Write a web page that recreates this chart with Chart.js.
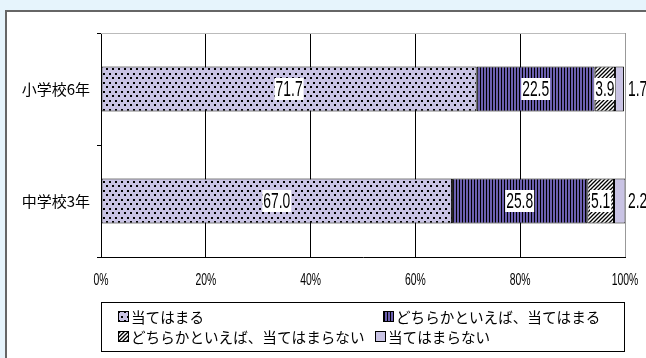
<!DOCTYPE html>
<html lang="ja">
<head>
<meta charset="utf-8">
<script src="https://cdn.jsdelivr.net/npm/chart.js@4.4.0/dist/chart.umd.min.js"></script>
<style>
  html, body { margin: 0; padding: 0; width: 646px; height: 358px; overflow: hidden; background: #e6f4fc; }
  #panel { position: absolute; left: 5px; top: 10px; width: 660px; height: 360px; background: #fff;
           border-left: 2px solid #666; border-top: 2px solid #666; box-sizing: border-box; }
  #chart { position: absolute; left: 0; top: 0; }
</style>
</head>
<body>
<div id="panel"></div>
<canvas id="chart" width="646" height="358"></canvas>
<script>
// 回答の割合（％）
const categories = ["小学校6年", "中学校3年"];
const seriesNames = ["当てはまる", "どちらかといえば、当てはまる", "どちらかといえば、当てはまらない", "当てはまらない"];
const applyValues = [71.7, 67.0];
const somewhatApplyValues = [22.5, 25.8];
const somewhatNotValues = [3.9, 5.1];
const notApplyValues = [1.7, 2.2];
const tickLabels = ["0%", "20%", "40%", "60%", "80%", "100%"];

const numFont = '"Liberation Sans", "DejaVu Sans", sans-serif';
const jpFont = '"Noto Sans CJK JP", "Noto Sans", sans-serif';

// 細長い数字を描く（横方向に縮める）
function drawNarrow(ctx, text, x, y, size, sx, align) {
    ctx.save();
    ctx.font = size + "px " + numFont;
    ctx.textBaseline = "middle";
    ctx.textAlign = align;
    ctx.translate(x, y);
    ctx.scale(sx, 1);
    ctx.fillText(text, 0, 0);
    ctx.restore();
}
function narrowWidth(ctx, text, size, sx) {
    ctx.save();
    ctx.font = size + "px " + numFont;
    const w = ctx.measureText(text).width * sx;
    ctx.restore();
    return w;
}

// 塗りつぶし用のパターン
function makePattern(w, h, draw) {
    const c = document.createElement("canvas");
    c.width = w;
    c.height = h;
    draw(c.getContext("2d"));
    return document.getElementById("chart").getContext("2d").createPattern(c, "repeat");
}

const dotPattern = makePattern(6, 9, g => {
    g.fillStyle = "#c9c3e4";
    g.fillRect(0, 0, 6, 9);
    g.fillStyle = "#000";
    g.fillRect(1, 1, 2, 2);
    g.fillRect(4, 5, 2, 2);
});
const stripePattern = makePattern(3, 3, g => {
    g.fillStyle = "#6c60b0";
    g.fillRect(0, 0, 3, 3);
    g.fillStyle = "#000";
    g.fillRect(0, 0, 1, 3);
});
const hatchPattern = makePattern(4, 4, g => {
    g.fillStyle = "#fff";
    g.fillRect(0, 0, 4, 4);
    g.strokeStyle = "#000";
    g.lineWidth = 1.3;
    g.beginPath();
    g.moveTo(-1, 5); g.lineTo(5, -1);
    g.moveTo(-1, 1); g.lineTo(1, -1);
    g.moveTo(3, 5); g.lineTo(5, 3);
    g.stroke();
});
const plainFill = "#c9c3e4";
const fills = [dotPattern, stripePattern, hatchPattern, plainFill];

// 棒の値ラベル（最後の系列は棒の外側）
const valueLabels = {
    id: "valueLabels",
    afterDatasetsDraw(chart) {
        const ctx = chart.ctx;
        const last = chart.data.datasets.length - 1;
        chart.data.datasets.forEach((ds, i) => {
            chart.getDatasetMeta(i).data.forEach((bar, j) => {
                const text = ds.data[j].toFixed(1);
                ctx.fillStyle = "#000";
                if (i === last) {
                    drawNarrow(ctx, text, chart.chartArea.right + 3, bar.y + 1, 22, 0.63, "left");
                    return;
                }
                const cx = (bar.x + bar.base) / 2;
                const w = narrowWidth(ctx, text, 22, 0.63) + 2;
                ctx.fillStyle = "#fff";
                ctx.fillRect(cx - w / 2, bar.y - 11, w, 22);
                ctx.fillStyle = "#000";
                drawNarrow(ctx, text, cx, bar.y + 1, 22, 0.63, "center");
            });
        });
    }
};

// グラフ上端の枠線と横軸の目盛りラベル
const plotFrame = {
    id: "plotFrame",
    beforeDatasetsDraw(chart) {
        const { ctx, chartArea } = chart;
        ctx.save();
        ctx.strokeStyle = "#bbb";
        ctx.lineWidth = 1;
        ctx.beginPath();
        ctx.moveTo(chartArea.left, chartArea.top + 0.5);
        ctx.lineTo(chartArea.right, chartArea.top + 0.5);
        ctx.stroke();
        ctx.restore();
    },
    afterDraw(chart) {
        const ctx = chart.ctx;
        const xs = chart.scales.x;
        ctx.fillStyle = "#000";
        tickLabels.forEach((t, i) => {
            drawNarrow(ctx, t, xs.getPixelForValue(i * 20), chart.chartArea.bottom + 24, 16, 0.65, "center");
        });
    }
};

// 凡例（枠付き、2行）
const legendSlots = [[118, 316], [383, 316], [118, 336], [375, 336]];
const boxLegend = {
    id: "boxLegend",
    afterDraw(chart) {
        const ctx = chart.ctx;
        ctx.save();
        ctx.strokeStyle = "#000";
        ctx.lineWidth = 1;
        ctx.strokeRect(101.5, 302.5, 523, 49);
        ctx.font = "14.6px " + jpFont;
        ctx.textBaseline = "middle";
        ctx.textAlign = "left";
        chart.data.datasets.forEach((ds, i) => {
            const [x, y] = legendSlots[i];
            ctx.fillStyle = ds.backgroundColor;
            ctx.fillRect(x, y - 5, 11, 11);
            ctx.strokeRect(x + 0.5, y - 4.5, 10, 10);
            ctx.fillStyle = "#000";
            ctx.fillText(ds.label, x + 13, y + 1);
        });
        ctx.restore();
    }
};

const seriesValues = [applyValues, somewhatApplyValues, somewhatNotValues, notApplyValues];

new Chart(document.getElementById("chart"), {
    type: "bar",
    data: {
        labels: categories,
        datasets: seriesNames.map((name, i) => ({
            label: name,
            data: seriesValues[i],
            backgroundColor: fills[i],
            borderColor: "#000",
            borderWidth: 1,
            borderSkipped: false,
            barPercentage: 0.4,
            categoryPercentage: 1
        }))
    },
    options: {
        indexAxis: "y",
        responsive: false,
        animation: false,
        layout: { padding: { left: 0, top: 33, right: 21, bottom: 71 } },
        plugins: {
            legend: { display: false },
            tooltip: { enabled: false }
        },
        scales: {
            x: {
                stacked: true,
                min: 0,
                max: 100,
                afterFit: s => { s.height = 30; s.paddingLeft = 0; s.paddingRight = 0; },
                ticks: {
                    stepSize: 20,
                    display: false
                },
                grid: {
                    color: c => (c.tick && c.tick.value === 100 ? "#999" : "#000"),
                    lineWidth: 1,
                    drawTicks: false
                },
                border: { color: "#000", width: 1 }
            },
            y: {
                stacked: true,
                afterFit: s => { s.width = 101; },
                ticks: {
                    color: "#000",
                    padding: 7,
                    font: { family: jpFont, size: 15 }
                },
                grid: {
                    offset: true,
                    drawOnChartArea: false,
                    drawTicks: true,
                    tickLength: 4,
                    color: "#000"
                },
                border: { color: "#000", width: 1 }
            }
        }
    },
    plugins: [plotFrame, valueLabels, boxLegend]
});
</script>
</body>
</html>
